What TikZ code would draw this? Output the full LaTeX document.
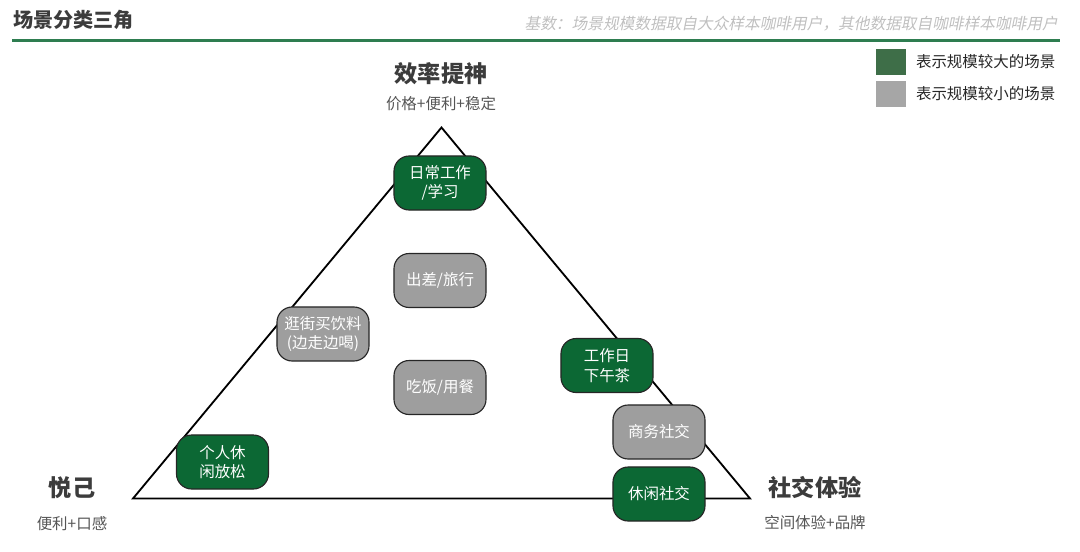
\documentclass[tikz,border=0pt]{standalone}
\usepackage{fontspec}
\setmainfont{Noto Sans CJK SC}
\newfontfamily\notefont[FakeSlant=0.2]{Noto Sans CJK SC}
\usetikzlibrary{positioning,calc}
\definecolor{bigscene}{RGB}{12,104,52}
\definecolor{smallscene}{RGB}{158,158,158}
\definecolor{legendgreen}{RGB}{62,110,72}
\definecolor{legendgray}{RGB}{166,166,166}
\definecolor{rulegreen}{RGB}{46,125,80}
\definecolor{darktext}{RGB}{60,60,60}
\definecolor{subtext}{RGB}{85,85,85}
\tikzstyle{scene} = [rectangle, rounded corners=3.8mm, draw=black!85, line width=0.8pt, minimum width=2.3cm, minimum height=1.35cm, align=center, text=white, font=\fontsize{11}{14}\selectfont]

\begin{document}
\begin{tikzpicture}[x=0.025cm, y=-0.025cm,
	corner/.style={text=darktext, font=\bfseries\fontsize{16.5}{20}\selectfont},
	cornersub/.style={text=subtext, font=\fontsize{11}{13}\selectfont},
	big/.style={scene, fill=bigscene},
	small/.style={scene, fill=smallscene},
	legendbox/.style={rectangle, minimum width=0.75cm, minimum height=0.65cm, inner sep=0pt}]
	
	\useasboundingbox (0,0) rectangle (1080,552);
	
	% HEADER
	
	\node [anchor=west, text=darktext, font=\bfseries\fontsize{14.3}{16}\selectfont, inner sep=0pt] (title) at (13,20) {场景分类三角};
	\node [anchor=east, text=black!25, font=\notefont\fontsize{11.15}{13}\selectfont, inner sep=0pt] (note) at (1058,24) {基数：场景规模数据取自大众样本咖啡用户，其他数据取自咖啡样本咖啡用户};
	\coordinate (ruleL) at (12,40.5);
	\coordinate (ruleR) at (1060,40.5);
	\draw [rulegreen, line width=1.5pt] (ruleL) -- (ruleR);
	
	% LEGEND
	
	\node [legendbox, fill=legendgreen] (lgbig) at (891,62) {};
	\node [legendbox, fill=legendgray] (lgsmall) at (891,94) {};
	\node [right=0.12cm of lgbig, font=\fontsize{11}{13}\selectfont, text=black!85] (lgbigtext) {表示规模较大的场景};
	\node [right=0.12cm of lgsmall, font=\fontsize{11}{13}\selectfont, text=black!85] (lgsmalltext) {表示规模较小的场景};
	
	% TRIANGLE
	
	\coordinate (top) at (441.5,127.5);
	\coordinate (left) at (133,498.5);
	\coordinate (right) at (750,498.5);
	\draw [line width=1.3pt, line join=miter] (top) -- (left) -- (right) -- cycle;
	
	\node [corner] (efficiency) at (441,74) {效率提神};
	\node [cornersub] (efficiencysub) at (441,104) {价格+便利+稳定};
	\node [corner] (pleasure) at (72,488) {悦己};
	\node [cornersub] (pleasuresub) at (72,524) {便利+口感};
	\node [corner] (social) at (815,488) {社交体验};
	\node [cornersub] (socialsub) at (815,523) {空间体验+品牌};
	
	% SCENES
	
	\node [big] (work) at (440,183) {日常工作\\/学习};
	\node [small] (travel) at (440,280.5) {出差/旅行};
	\node [small] (shopping) at (323,334) {逛街买饮料\\(边走边喝)};
	\node [small] (meal) at (440,387.5) {吃饭/用餐};
	\node [big] (tea) at (607,365.5) {工作日\\下午茶};
	\node [small] (business) at (659,432) {商务社交};
	\node [big] (leisure) at (659,494) {休闲社交};
	\node [big] (relax) at (222.5,462) {个人休\\闲放松};
	
\end{tikzpicture}
\end{document}
